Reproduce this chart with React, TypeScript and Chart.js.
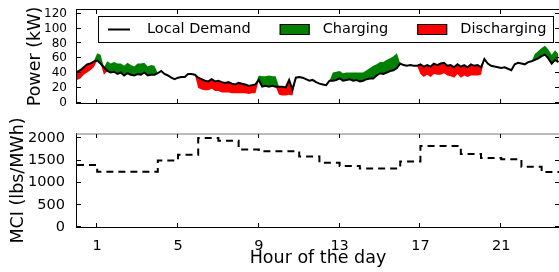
import React, { useEffect, useRef } from 'react';
import { Chart, registerables } from 'chart.js';

Chart.register(...registerables);

const FONT = "'DejaVu Sans', 'Bitstream Vera Sans', sans-serif";
Chart.defaults.font.family = FONT;
Chart.defaults.color = '#000';

// ---- data ----
const STEP_HOURS = 1 / 6; // 10-minute samples
const X_MIN = 0;
const X_MAX = 23.86;
const X_TICKS = [1, 5, 9, 13, 17, 21];
const POWER_MAX = 125;
const POWER_TICKS = [0, 20, 40, 60, 80, 100, 120];
const MCI_MAX = 2100;
const MCI_TICKS = [0, 500, 1000, 1500, 2000];

const DEMAND_LABEL = 'Local Demand';
const CHARGING_LABEL = 'Charging';
const DISCHARGING_LABEL = 'Discharging';

// local demand, kW
const DEMAND = [
  42, 44, 48, 52, 53, 56,
  57, 53, 48, 43, 41, 42,
  39, 41, 37, 40, 38, 37,
  39, 38, 41, 37, 38, 38,
  40, 43, 39, 37, 34, 32,
  34, 35, 35, 39, 39, 38,
  34, 32, 30, 29, 32, 29,
  30, 28, 27, 28, 26, 25,
  27, 26, 25, 23, 24, 25,
  31, 22, 23, 22, 23, 22,
  22, 22, 21, 31, 18, 34,
  35, 34, 32, 30, 31, 28,
  26, 25, 24, 30, 30, 31,
  33, 30, 31, 32, 30, 31,
  29, 30, 32, 33, 33, 37,
  40, 39, 41, 43, 44, 47,
  53, 51, 50, 51, 50, 50,
  52, 49, 51, 49, 53, 51,
  53, 54, 50, 51, 48, 52,
  49, 51, 48, 52, 50, 51,
  48, 59, 53, 50, 49, 48,
  47, 48, 46, 44, 52, 54,
  53, 52, 55, 56, 58, 60,
  63, 65, 60, 53, 58, 55,
];

// battery power, kW (positive = charging, negative = discharging)
const BATTERY = [
  -11, -11, -10, -11, -9, -8,
  10, 12, -10, 13, 12, 13,
  14, 12, 13, 14, 13, 12,
  14, 15, 13, 12, 13, 12,
  0, 0, 0, 0, 0, 0,
  0, 0, 0, 0, 0, 0,
  -14, -14, -13, -12, -13, -13,
  -14, -14, -13, -14, -13, -12,
  -14, -13, -12, -11, -11, -12,
  6, 14, 13, 15, 13, 14,
  -11, -12, -11, -20, -8, 0,
  0, 0, 0, 0, 0, 0,
  0, 0, 0, 0, 11, 11,
  10, 10, 10, 9, 11, 10,
  12, 11, 12, 14, 17, 15,
  15, 16, 17, 17, 19, 20,
  0, 0, 0, 0, 0, 0,
  -13, -14, -13, -14, -14, -13,
  -15, -14, -13, -15, -14, -13,
  -15, -14, -13, -15, -13, -14,
  -10, 0, 0, 0, 0, 0,
  0, 0, 0, 0, 0, 0,
  0, 0, 0, 0, 8, 10,
  11, 12, 12, 12, 13, 11,
  7, 6,
];

// marginal carbon intensity per hour, lbs/MWh
const MCI_HOURLY = [
  1400, 1250, 1250, 1250, 1500, 1630, 2010, 1950, 1750, 1710, 1710, 1590,
  1450, 1380, 1320, 1320, 1480, 1830, 1830, 1650, 1560, 1530, 1360, 1240,
];

// ---- helpers ----
const zeroPad = (s: any) => {
  s.paddingTop = 0;
  s.paddingBottom = 0;
  s.paddingLeft = 0;
  s.paddingRight = 0;
};
const setTicks = (vals: number[]) => (s: any) => {
  s.ticks = vals.map((v) => ({ value: v }));
};
const plain = (v: any) => String(v);

const framePlugin = {
  id: 'frame',
  afterDraw(chart: any, _args: any, opts: any) {
    const { ctx, chartArea: a, scales } = chart;
    const xs = scales.x;
    const ys = scales.y;
    const L = 4;
    ctx.save();
    ctx.strokeStyle = '#000';
    ctx.lineWidth = 1;
    ctx.beginPath();
    ctx.moveTo(a.left - 0.5, a.top - 1);
    ctx.lineTo(a.left - 0.5, a.bottom + 1);
    ctx.moveTo(a.left - 1, a.bottom + 0.5);
    ctx.lineTo(a.right, a.bottom + 0.5);
    ctx.stroke();
    ctx.beginPath();
    ctx.strokeStyle = opts.topColor || '#000';
    const ty = opts.topHalf ? a.top - 0.5 : a.top;
    ctx.moveTo(a.left - 1, ty);
    ctx.lineTo(a.right, ty);
    ctx.stroke();
    ctx.beginPath();
    ctx.strokeStyle = '#000';
    for (const t of xs.ticks) {
      const px = Math.round(xs.getPixelForValue(t.value)) - 0.5;
      ctx.moveTo(px, a.bottom);
      ctx.lineTo(px, a.bottom - L);
      ctx.moveTo(px, a.top);
      ctx.lineTo(px, a.top + L);
    }
    for (const t of ys.ticks) {
      const py = Math.round(ys.getPixelForValue(t.value)) - 0.5;
      ctx.moveTo(a.left, py);
      ctx.lineTo(a.left + L, py);
      ctx.moveTo(a.right, py);
      ctx.lineTo(a.right - L, py);
    }
    ctx.stroke();
    ctx.restore();
  },
};

const legendPlugin = {
  id: 'boxLegend',
  afterDraw(chart: any) {
    const { ctx, chartArea: a } = chart;
    const ds = chart.data.datasets;
    const left = a.left + 21;
    const top = a.top + 6;
    const w = 456;
    const h = 27;
    const cy = top + 13.5;
    ctx.save();
    ctx.fillStyle = '#fff';
    ctx.fillRect(left, top, w, h);
    ctx.strokeStyle = '#000';
    ctx.lineWidth = 1;
    ctx.strokeRect(left + 0.5, top + 0.5, w - 1, h - 1);
    ctx.font = `14.5px ${FONT}`;
    ctx.textBaseline = 'middle';
    ctx.textAlign = 'left';
    let cx = left + 6;
    const handleW = 30;
    const gap = 13;
    const colGap = 29;
    for (const d of ds) {
      if (d.legendKind === 'line') {
        ctx.strokeStyle = d.borderColor;
        ctx.lineWidth = 2;
        ctx.beginPath();
        ctx.moveTo(cx + 4, cy);
        ctx.lineTo(cx + handleW - 4, cy);
        ctx.stroke();
      } else {
        ctx.fillStyle = d.backgroundColor;
        ctx.fillRect(cx, cy - 5.5, handleW, 11);
        ctx.strokeStyle = '#000';
        ctx.lineWidth = 1;
        ctx.strokeRect(cx + 0.5, cy - 5.5 + 0.5, handleW - 1, 10);
      }
      const tx = cx + handleW + gap;
      ctx.fillStyle = '#000';
      ctx.fillText(d.label, tx, cy);
      cx = tx + ctx.measureText(d.label).width + colGap;
    }
    ctx.restore();
  },
};

export default function App() {
  const topRef = useRef<HTMLCanvasElement>(null);
  const botRef = useRef<HTMLCanvasElement>(null);

  useEffect(() => {
    const demandPts = DEMAND.map((d, i) => ({ x: i * STEP_HOURS, y: d }));
    const upperPts = DEMAND.map((d, i) => ({ x: i * STEP_HOURS, y: d + Math.max(BATTERY[i], 0) }));
    const lowerPts = DEMAND.map((d, i) => ({ x: i * STEP_HOURS, y: d + Math.min(BATTERY[i], 0) }));
    const mciPts = MCI_HOURLY.map((v, h) => ({ x: h, y: v }));
    mciPts.push({ x: X_MAX, y: MCI_HOURLY[MCI_HOURLY.length - 1] });

    const top = new Chart(topRef.current as HTMLCanvasElement, {
      type: 'line',
      data: {
        datasets: [
          {
            label: DEMAND_LABEL,
            data: demandPts,
            borderColor: '#000',
            borderWidth: 2,
            pointRadius: 0,
            fill: false,
            tension: 0,
            legendKind: 'line',
          } as any,
          {
            label: CHARGING_LABEL,
            data: upperPts,
            borderColor: 'rgba(0,0,0,0)',
            borderWidth: 0,
            backgroundColor: '#008000',
            pointRadius: 0,
            fill: 0,
            legendKind: 'patch',
          } as any,
          {
            label: DISCHARGING_LABEL,
            data: lowerPts,
            borderColor: 'rgba(0,0,0,0)',
            borderWidth: 0,
            backgroundColor: '#ff0000',
            pointRadius: 0,
            fill: 0,
            legendKind: 'patch',
          } as any,
        ],
      },
      options: {
        animation: false,
        responsive: false,
        events: [],
        layout: { padding: { top: 10, left: 0, right: 0, bottom: 0 } },
        plugins: {
          legend: { display: false },
          tooltip: { enabled: false },
          frame: { topColor: '#000', topHalf: true },
        } as any,
        scales: {
          x: {
            type: 'linear',
            min: X_MIN,
            max: X_MAX,
            grid: { display: false },
            border: { display: false },
            ticks: { display: false },
            afterBuildTicks: setTicks(X_TICKS),
            afterFit: (s: any) => {
              s.height = 3;
              zeroPad(s);
            },
          },
          y: {
            type: 'linear',
            min: 0,
            max: POWER_MAX,
            grid: { display: false },
            border: { display: false },
            ticks: { font: { size: 12 }, color: '#000', padding: 2, autoSkip: false, callback: plain },
            title: {
              display: true,
              text: 'Power (kW)',
              font: { size: 17.5 },
              color: '#000',
              padding: { top: 25, bottom: 0 },
            },
            afterBuildTicks: setTicks(POWER_TICKS),
            afterFit: (s: any) => {
              s.width = 77;
              zeroPad(s);
            },
          },
        },
      } as any,
      plugins: [framePlugin, legendPlugin],
    });

    const bot = new Chart(botRef.current as HTMLCanvasElement, {
      type: 'line',
      data: {
        datasets: [
          {
            label: 'MCI',
            data: mciPts,
            borderColor: '#000',
            borderWidth: 2,
            borderDash: [7, 5],
            pointRadius: 0,
            fill: false,
            stepped: true,
          } as any,
        ],
      },
      options: {
        animation: false,
        responsive: false,
        events: [],
        layout: { padding: { top: 28, left: 0, right: 0, bottom: 0 } },
        plugins: {
          legend: { display: false },
          tooltip: { enabled: false },
          frame: { topColor: '#777', topHalf: false },
        } as any,
        scales: {
          x: {
            type: 'linear',
            min: X_MIN,
            max: X_MAX,
            grid: { display: false },
            border: { display: false },
            ticks: { font: { size: 14.5 }, color: '#000', padding: 3, maxRotation: 0, autoSkip: false, callback: plain },
            title: {
              display: true,
              text: 'Hour of the day',
              font: { size: 17.5 },
              color: '#000',
              padding: { top: 0, bottom: 3 },
            },
            afterBuildTicks: setTicks(X_TICKS),
            afterFit: (s: any) => {
              s.height = 45;
              zeroPad(s);
            },
          },
          y: {
            type: 'linear',
            min: 0,
            max: MCI_MAX,
            grid: { display: false },
            border: { display: false },
            ticks: { font: { size: 14.5 }, color: '#000', padding: 4, autoSkip: false, callback: plain },
            title: {
              display: true,
              text: 'MCI (lbs/MWh)',
              font: { size: 17.5 },
              color: '#000',
              padding: { top: 8, bottom: 0 },
            },
            afterBuildTicks: setTicks(MCI_TICKS),
            afterFit: (s: any) => {
              s.width = 77;
              zeroPad(s);
            },
          },
        },
      } as any,
      plugins: [framePlugin],
    });

    return () => {
      top.destroy();
      bot.destroy();
    };
  }, []);

  return (
    <div style={{ position: 'fixed', left: 0, top: 0, width: 559, height: 272, background: '#fff', overflow: 'hidden' }}>
      <canvas ref={topRef} width={559} height={106} style={{ position: 'absolute', left: 0, top: 0, display: 'block' }} />
      <canvas ref={botRef} width={559} height={166} style={{ position: 'absolute', left: 0, top: 106, display: 'block' }} />
    </div>
  );
}
